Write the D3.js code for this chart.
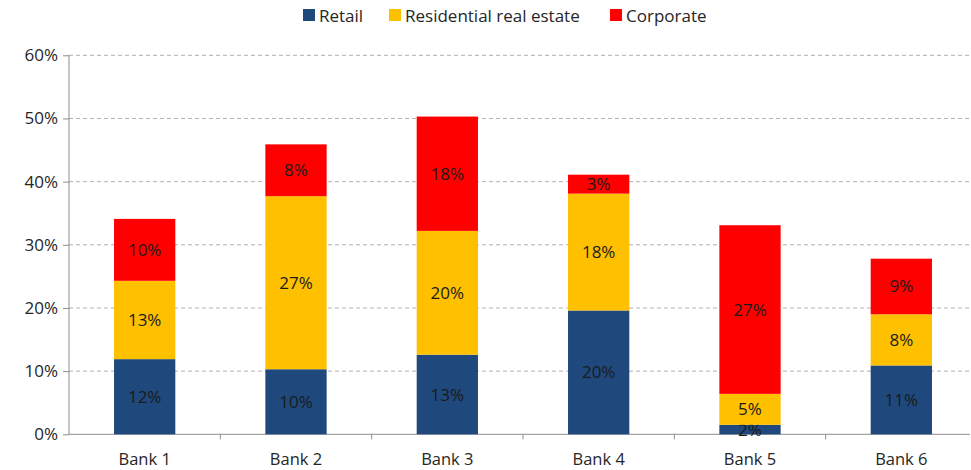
<!DOCTYPE html>
<html><head><meta charset="utf-8">
<script src="https://cdn.jsdelivr.net/npm/d3@7"></script>
<style>body{margin:0;background:#fff}svg{display:block}text{font-family:"Open Sans","Noto Sans",sans-serif}</style>
</head><body><svg id="c" width="971" height="470"></svg>
<script>
const categories = ["Bank 1","Bank 2","Bank 3","Bank 4","Bank 5","Bank 6"];
const seriesNames = ["Retail","Residential real estate","Corporate"];
const retail = [11.9, 10.3, 12.6, 19.6, 1.5, 10.9];
const residential = [12.4, 27.4, 19.6, 18.5, 4.9, 8.1];
const corporate = [9.8, 8.2, 18.1, 3.0, 26.7, 8.8];
const labelsRetail = ["12%","10%","13%","20%","2%","11%"];
const labelsResidential = ["13%","27%","20%","18%","5%","8%"];
const labelsCorporate = ["10%","8%","18%","3%","27%","9%"];
const yTicks = [0,10,20,30,40,50,60];
const colors = ["#1f497d","#ffc000","#ff0000"];

const svg = d3.select("#c");
const L = 69, R = 977, T = 55.3, B = 434.3;
const x = d3.scaleBand().domain(categories).range([L, R]).paddingInner(0.595).paddingOuter(0.2975);
const y = d3.scaleLinear().domain([0,60]).range([B, T]);

// gridlines
svg.append("g").selectAll("line").data(yTicks.filter(d=>d>0)).join("line")
  .attr("x1", L).attr("x2", 970).attr("y1", d=>y(d)).attr("y2", d=>y(d))
  .attr("stroke","#b0b0b0").attr("stroke-width",1).attr("stroke-dasharray","4,3");

// y axis
const yAxis = d3.axisLeft(y).tickValues(yTicks).tickFormat(d=>d+"%").tickSize(6).tickPadding(5);
const gy = svg.append("g").attr("transform",`translate(${L},0)`).call(yAxis);
gy.select(".domain").attr("stroke","#8c8c8c").attr("d",`M0,${T}V${B}`);
gy.selectAll(".tick line").attr("stroke","#8c8c8c");
gy.selectAll(".tick text").attr("font-size",17).attr("fill","#262626").attr("font-family","'Open Sans',sans-serif");

// x axis
const bw = x.step();
svg.append("line").attr("x1",L).attr("x2",970).attr("y1",B).attr("y2",B).attr("stroke","#8c8c8c");
svg.append("g").selectAll("line").data(categories.slice(1)).join("line")
  .attr("x1",d=>x(d)-x.paddingInner()*bw/2).attr("x2",d=>x(d)-x.paddingInner()*bw/2)
  .attr("y1",B).attr("y2",B+5).attr("stroke","#8c8c8c");
svg.append("g").selectAll("text").data(categories).join("text")
  .attr("x",d=>x(d)+x.bandwidth()/2).attr("y",B+31).attr("text-anchor","middle")
  .attr("font-size",16.5).attr("fill","#262626").text(d=>d);

// stacks
const data = categories.map((c,i)=>({cat:c, Retail:retail[i], "Residential real estate":residential[i], Corporate:corporate[i]}));
const stack = d3.stack().keys(seriesNames)(data);
const labelArrs = [labelsRetail, labelsResidential, labelsCorporate];
stack.forEach((s,si)=>{
  const g = svg.append("g");
  g.selectAll("rect").data(s).join("rect")
    .attr("x",d=>x(d.data.cat)).attr("width",x.bandwidth())
    .attr("y",d=>y(d[1])).attr("height",d=>y(d[0])-y(d[1]))
    .attr("fill",colors[si]);
  g.selectAll("text").data(s).join("text")
    .attr("x",d=>x(d.data.cat)+x.bandwidth()/2)
    .attr("y",d=>(y(d[0])+y(d[1]))/2+6)
    .attr("text-anchor","middle").attr("font-size",17).attr("fill","#1a1a1a")
    .text((d,i)=>labelArrs[si][i]);
});

// legend
const legX = [303, 389, 610];
const lg = svg.append("g");
seriesNames.forEach((n,i)=>{
  lg.append("rect").attr("x",legX[i]).attr("y",9).attr("width",12).attr("height",12).attr("fill",colors[i]);
  lg.append("text").attr("x",legX[i]+16).attr("y",21.5).attr("font-size",17).attr("fill","#262626").text(n);
});
</script></body></html>
